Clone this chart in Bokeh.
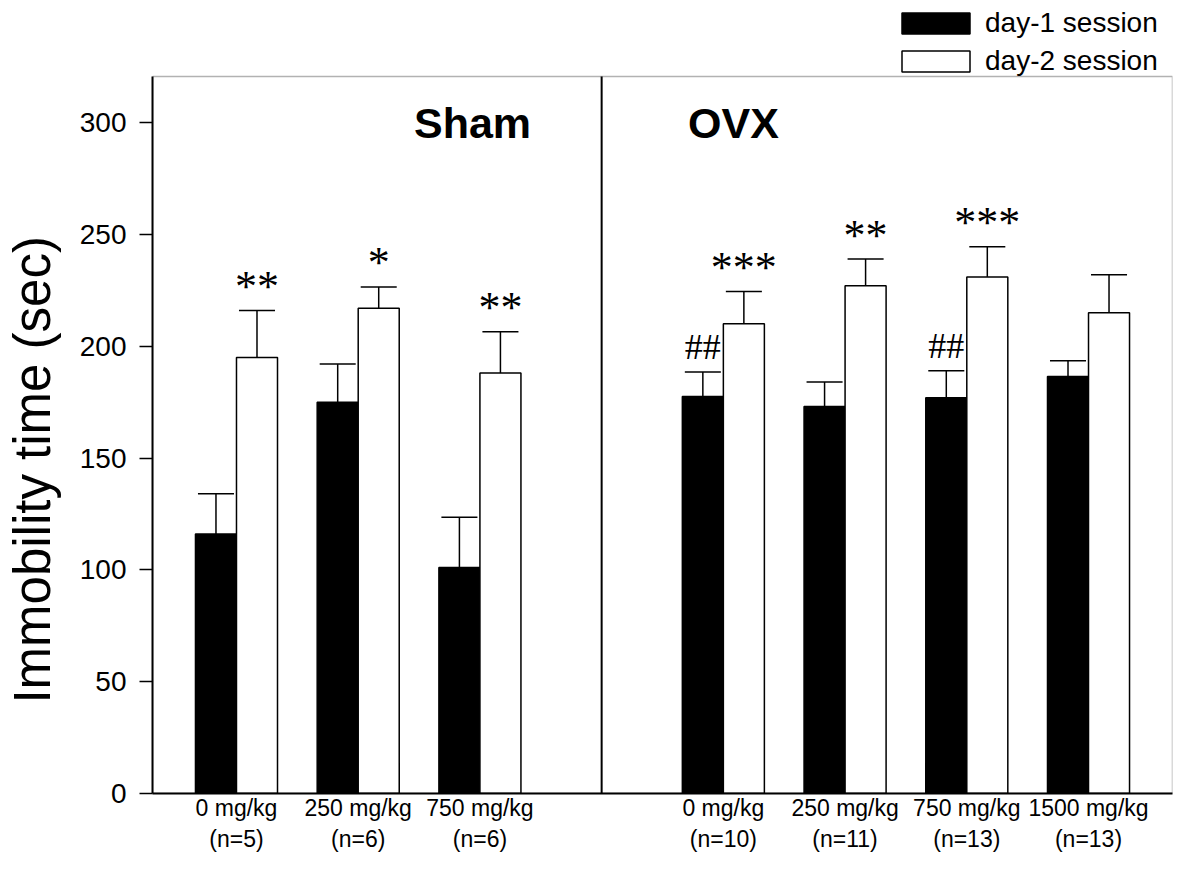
import math
from bokeh.plotting import figure
from bokeh.models import (ColumnDataSource, FactorRange, Range1d, Label,
                          Legend, LegendItem, FixedTicker, BoxAnnotation)
from bokeh.transform import dodge
from bokeh.core.properties import value
from bokeh.embed import file_html
from bokeh.resources import INLINE

# ---------------- data ----------------
doses = ["0 mg/kg", "250 mg/kg", "750 mg/kg",
         "0 mg/kg", "250 mg/kg", "750 mg/kg", "1500 mg/kg"]
group_n = [5, 6, 6, 10, 11, 13, 13]
day1_mean = [116, 175, 101, 177.5, 173, 177, 186.5]
day1_sem = [18, 17, 22.5, 11, 11, 12, 7]
day2_mean = [195, 217, 188, 210, 227, 231, 215]
day2_sem = [21, 9.5, 18.5, 14.5, 12, 13.5, 17]
day2_sig = ["**", "*", "**", "***", "**", "***", ""]
day1_sig = ["", "", "", "##", "", "##", ""]
y_ticks = [0, 50, 100, 150, 200, 250, 300]
y_top = 320.6
series_names = ["day-1 session", "day-2 session"]
panel_names = ["Sham", "OVX"]
y_title = "Immobility time (sec)"

labels = [f"{d}\n(n={n})" for d, n in zip(doses, group_n)]
gap = " "
factors = labels[:3] + [gap] + labels[3:]

src = ColumnDataSource(dict(
    x=labels,
    d1=day1_mean,
    d1_top=[m + s for m, s in zip(day1_mean, day1_sem)],
    d2=day2_mean,
    d2_top=[m + s for m, s in zip(day2_mean, day2_sem)],
    s1=day1_sig,
    s2=day2_sig,
))

FONT = "Liberation Sans"
SERIF = "Liberation Serif"

xr = FactorRange(*factors, range_padding=0.19, range_padding_units="absolute",
                 factor_padding=0)
# extra head-room above the boxed area holds the legend
yr = Range1d(0, 352.8)

p = figure(width=1184, height=858, x_range=xr, y_range=yr,
           output_backend="svg", toolbar_location=None,
           min_border_left=152, min_border_right=12,
           min_border_top=4, min_border_bottom=65)
p.background_fill_color = "white"
p.border_fill_color = "white"
p.outline_line_color = None
p.xgrid.grid_line_color = None
p.ygrid.grid_line_color = None

# the plotting box (0 .. y_top)
p.add_layout(BoxAnnotation(top=y_top, bottom=0, fill_alpha=0,
                           line_color="black", line_width=1.5))

off = 0.1685
bw = 0.337
cap = 0.148
lw = 1.5

r1 = p.vbar(x=dodge("x", -off, range=xr), top="d1", width=bw, source=src,
            fill_color="black", line_color="black", line_width=lw)
r2 = p.vbar(x=dodge("x", off, range=xr), top="d2", width=bw, source=src,
            fill_color="white", line_color="black", line_width=lw)

# error bars (upper only)
p.segment(x0=dodge("x", -off, range=xr), y0="d1", x1=dodge("x", -off, range=xr),
          y1="d1_top", source=src, line_color="black", line_width=lw)
p.segment(x0=dodge("x", -off - cap, range=xr), y0="d1_top",
          x1=dodge("x", -off + cap, range=xr), y1="d1_top", source=src,
          line_color="black", line_width=lw)
p.segment(x0=dodge("x", off, range=xr), y0="d2", x1=dodge("x", off, range=xr),
          y1="d2_top", source=src, line_color="black", line_width=lw)
p.segment(x0=dodge("x", off - cap, range=xr), y0="d2_top",
          x1=dodge("x", off + cap, range=xr), y1="d2_top", source=src,
          line_color="black", line_width=lw)

# significance marks
p.text(x=dodge("x", off, range=xr), y="d2_top", text="s2", source=src,
       y_offset=-24, text_align="center", text_baseline="middle",
       text_font=value(SERIF), text_font_size="44px", text_color="black")
p.text(x=dodge("x", -off, range=xr), y="d1_top", text="s1", source=src,
       y_offset=-25, text_align="center", text_baseline="middle",
       text_font=value(SERIF), text_font_size="36px", text_color="black")

# divider between Sham and OVX panels
p.segment(x0=[gap], y0=[0], x1=[gap], y1=[y_top], line_color="black",
          line_width=2)

# axes
p.yaxis.ticker = FixedTicker(ticks=y_ticks)
p.yaxis.bounds = (0, y_top)
p.yaxis.minor_tick_line_color = None
p.yaxis.major_tick_out = 13
p.yaxis.major_tick_in = 0
p.yaxis.major_tick_line_width = 1.5
p.yaxis.major_tick_line_color = "black"
p.yaxis.axis_line_width = 2
p.yaxis.axis_line_color = "black"
p.yaxis.major_label_text_font = FONT
p.yaxis.major_label_text_font_size = "28px"
p.yaxis.major_label_text_color = "black"
p.yaxis.major_label_standoff = 13
# trailing no-break spaces push the centred title down, as in the reference
p.yaxis.axis_label = y_title + "\u00a0" * 10
p.yaxis.axis_label_standoff = 16
p.yaxis.axis_label_text_font = FONT
p.yaxis.axis_label_text_font_style = "normal"
p.yaxis.axis_label_text_font_size = "51px"
p.yaxis.axis_label_text_color = "black"

p.xaxis.major_tick_line_color = None
p.xaxis.minor_tick_line_color = None
p.xaxis.major_tick_out = 0
p.xaxis.axis_line_width = 2
p.xaxis.axis_line_color = "black"
p.xaxis.major_label_text_font = FONT
p.xaxis.major_label_text_font_size = "23px"
p.xaxis.major_label_text_color = "black"
p.xaxis.major_label_standoff = 1

# panel titles
p.add_layout(Label(x=320, y=671, x_units="screen", y_units="screen",
                   text=panel_names[0], text_align="center",
                   text_baseline="alphabetic", text_font=FONT,
                   text_font_style="bold", text_font_size="43px",
                   text_color="black"))
p.add_layout(Label(x=581, y=671, x_units="screen", y_units="screen",
                   text=panel_names[1], text_align="center",
                   text_baseline="alphabetic", text_font=FONT,
                   text_font_style="bold", text_font_size="43px",
                   text_color="black"))

legend = Legend(items=[LegendItem(label=series_names[0], renderers=[r1]),
                       LegendItem(label=series_names[1], renderers=[r2])],
                location=(741, 716), margin=0, padding=0, spacing=6,
                glyph_width=85, glyph_height=26, label_standoff=7,
                label_text_font=FONT, label_text_font_size="28px",
                label_text_color="black",
                border_line_color=None, background_fill_alpha=0)
p.add_layout(legend)

open("out.html", "w").write(file_html(p, INLINE))
